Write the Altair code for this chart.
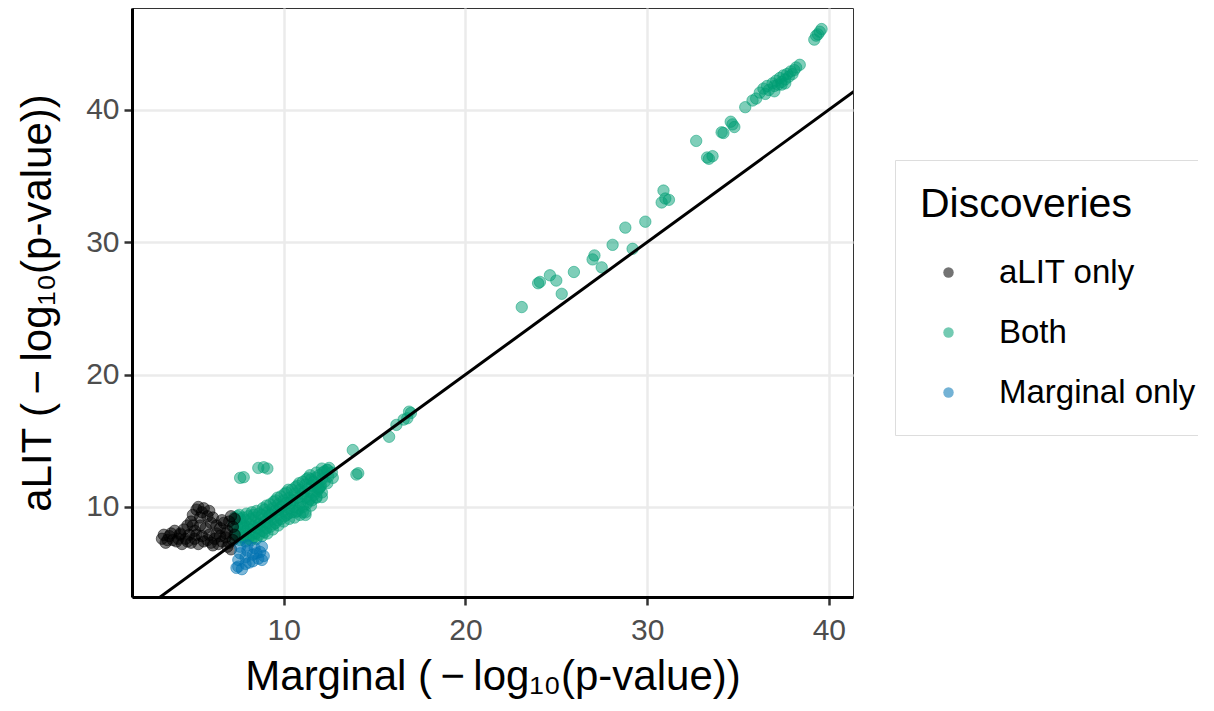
import altair as alt
import pandas as pd

categories = ["aLIT only", "Both", "Marginal only"]
palette = ["#000000", "#009E73", "#0072B2"]

# (Marginal, aLIT) values, -log10(p-value)
both_band = [
    (7.3, 7.6), (7.35, 8.0), (7.3, 8.4), (7.25, 8.8), (7.3, 9.2),
    (7.6, 7.5), (7.55, 7.9), (7.6, 8.3), (7.65, 8.7), (7.6, 9.1), (7.55, 9.4),
    (7.9, 7.4), (7.95, 7.8), (7.9, 8.2), (7.85, 8.6), (7.9, 9.0), (7.95, 9.5),
    (8.2, 7.5), (8.25, 7.9), (8.2, 8.3), (8.15, 8.7), (8.2, 9.1), (8.25, 9.6),
    (8.5, 7.6), (8.45, 8.0), (8.55, 8.4), (8.5, 8.8), (8.45, 9.2), (8.5, 9.7),
    (8.8, 7.8), (8.85, 8.2), (8.8, 8.6), (8.75, 9.0), (8.8, 9.4), (8.85, 9.9),
    (9.1, 8.0), (9.05, 8.4), (9.1, 8.8), (9.15, 9.2), (9.1, 9.6), (9.05, 10.1),
    (9.4, 8.3), (9.45, 8.7), (9.4, 9.1), (9.35, 9.5), (9.4, 9.9), (9.45, 10.4),
    (9.7, 8.6), (9.65, 9.0), (9.7, 9.4), (9.75, 9.8), (9.7, 10.2), (9.65, 10.7),
    (10.0, 8.9), (10.05, 9.3), (10.0, 9.7), (9.95, 10.1), (10.0, 10.5), (10.05, 11.0),
    (10.3, 9.1), (10.25, 9.5), (10.3, 9.9), (10.35, 10.3), (10.3, 10.7), (10.25, 11.3),
    (10.6, 9.2), (10.65, 9.6), (10.6, 10.0), (10.55, 10.5), (10.6, 11.0), (10.65, 11.5),
    (10.9, 9.4), (10.85, 9.9), (10.9, 10.3), (10.95, 10.8), (10.9, 11.3), (10.85, 11.8),
    (11.2, 9.6), (11.25, 10.2), (11.2, 10.7), (11.15, 11.2), (11.2, 11.7), (11.25, 12.1),
    (11.5, 10.1), (11.45, 10.6), (11.5, 11.1), (11.55, 11.6), (11.5, 12.1), (11.45, 12.4),
    (11.8, 10.7), (11.85, 11.2), (11.8, 11.7), (11.75, 12.2), (11.8, 12.6),
    (12.1, 11.1), (12.05, 11.6), (12.1, 12.1), (12.15, 12.6), (12.1, 12.9),
    (12.4, 11.8), (12.45, 12.3), (12.4, 12.8),
    (12.7, 12.2), (12.65, 12.6),
]
both_band_fill = [
    (7.45, 7.8), (7.45, 8.6), (7.45, 9.3), (7.75, 7.7), (7.75, 8.5), (7.75, 9.2),
    (8.05, 7.6), (8.05, 8.4), (8.05, 9.3), (8.35, 7.7), (8.35, 8.5), (8.35, 9.4),
    (8.65, 7.9), (8.65, 8.7), (8.65, 9.5), (8.95, 8.1), (8.95, 8.9), (8.95, 9.8),
    (9.25, 8.5), (9.25, 9.4), (9.25, 10.2), (9.55, 8.8), (9.55, 9.7), (9.55, 10.5),
    (9.85, 9.1), (9.85, 10.0), (9.85, 10.8), (10.15, 9.4), (10.15, 10.3), (10.15, 11.1),
    (10.45, 9.6), (10.45, 10.5), (10.45, 11.3), (10.75, 9.7), (10.75, 10.7), (10.75, 11.6),
    (11.05, 10.0), (11.05, 11.0), (11.05, 11.9), (11.35, 10.4), (11.35, 11.4), (11.35, 12.2),
    (11.65, 10.9), (11.65, 11.9), (11.95, 11.4), (11.95, 12.4), (12.25, 11.9), (12.25, 12.7),
]
both_outliers = [
    (7.6, 12.2), (7.8, 12.25), (8.6, 12.95), (8.9, 13.0), (9.1, 12.9),
    (11.8, 10.75), (11.55, 10.5), (11.05, 9.6), (11.2, 9.4), (11.9, 11.4),
    (12.0, 11.5), (12.1, 10.75), (12.4, 12.8), (12.5, 12.95),
]
both_mid = [
    (13.8, 14.3), (14.0, 12.45), (14.1, 12.55), (15.8, 15.3), (16.2, 16.2),
    (16.6, 16.6), (16.8, 16.7), (17.0, 17.1), (16.9, 17.2),
]
both_upper = [
    (23.1, 25.1), (24.0, 26.9), (24.1, 27.0), (24.65, 27.5), (25.0, 27.1),
    (25.3, 26.1), (25.97, 27.75), (27.0, 28.7), (27.1, 29.0), (27.5, 28.1),
    (28.1, 29.8), (28.8, 31.1), (29.2, 29.5), (29.9, 31.55),
    (30.8, 33.0), (30.9, 33.9), (31.0, 33.3), (31.2, 33.2),
    (32.7, 37.65), (33.3, 36.4), (33.4, 36.3), (33.6, 36.5),
    (34.1, 38.3), (34.2, 38.25), (34.6, 39.1), (34.7, 38.9), (34.8, 38.7),
    (35.4, 40.2), (35.8, 40.7), (36.0, 40.85),
    (36.2, 41.3), (36.4, 41.6), (36.5, 41.2), (36.6, 41.8), (36.7, 41.5),
    (36.9, 42.0), (37.0, 41.8), (37.0, 41.4), (37.1, 42.2), (37.2, 41.9),
    (37.3, 42.4), (37.4, 42.1), (37.4, 41.9), (37.5, 42.6), (37.6, 42.3),
    (37.6, 42.0), (37.7, 42.7), (37.8, 42.5), (37.9, 42.9), (38.0, 42.7),
    (38.1, 43.0), (38.2, 43.2), (38.4, 43.4),
    (39.2, 45.3), (39.3, 45.6), (39.4, 45.7), (39.5, 45.9), (39.6, 46.1),
]
alit_only = [
    (3.3, 7.6), (3.5, 7.3), (3.7, 7.8), (3.9, 7.5), (4.1, 7.4), (4.3, 7.9),
    (4.4, 7.2), (4.6, 7.6), (4.8, 7.9), (4.9, 7.3), (5.1, 7.6), (5.3, 7.2),
    (5.5, 7.8), (5.6, 7.4), (5.8, 7.5), (6.0, 7.3), (6.2, 7.6), (6.4, 7.2),
    (6.6, 7.4), (6.8, 7.7), (7.0, 7.3), (7.2, 7.5), (6.9, 7.0), (7.1, 6.8),
    (4.5, 8.3), (4.7, 8.6), (4.9, 8.9), (5.0, 9.4), (5.2, 9.8), (5.3, 10.0),
    (5.5, 9.6), (5.6, 9.9), (5.8, 9.3), (5.9, 9.7), (6.0, 8.8), (5.7, 8.4),
    (5.4, 8.6), (5.1, 8.2), (6.1, 9.2), (4.3, 8.0), (4.0, 8.2), (3.8, 8.0),
    (6.3, 8.0), (6.5, 8.4), (6.7, 8.8), (6.9, 8.2), (7.0, 8.9), (7.2, 8.5),
    (7.3, 9.1), (7.1, 9.3), (6.8, 8.0), (7.3, 7.9),
    (3.4, 7.9), (3.6, 7.5), (4.2, 7.6), (4.7, 7.4), (5.2, 7.9), (5.9, 7.9),
    (6.5, 7.8), (6.1, 7.1), (5.0, 8.6), (5.4, 9.2), (6.3, 8.6), (6.6, 9.0),
]
marginal_only = [
    (7.5, 5.5), (7.5, 6.0), (7.6, 6.5), (7.6, 7.0), (7.9, 5.7), (7.9, 6.2),
    (8.0, 6.7), (8.0, 7.1), (8.3, 5.9), (8.3, 6.4), (8.4, 6.9), (8.6, 6.1),
    (8.7, 6.6), (8.8, 7.0), (8.9, 6.3), (7.7, 5.3), (8.1, 5.8), (8.5, 6.5),
    (8.8, 6.0), (7.4, 5.4),
]
diagonal = [0, 50]

groups = [
    ("Both", both_band + both_band_fill + both_outliers + both_mid + both_upper),
    ("aLIT only", alit_only),
    ("Marginal only", marginal_only),
]
rows = []
for cat, pts in groups:
    for mx, ay in pts:
        rows.append({"marginal": mx, "alit": ay, "Discoveries": cat})
df = pd.DataFrame(rows)
line_df = pd.DataFrame({"marginal": diagonal, "alit": diagonal})

FONT = "Liberation Sans"
x_enc = alt.X(
    "marginal:Q",
    scale=alt.Scale(domain=[1.65, 41.33], nice=False, zero=False),
    axis=alt.Axis(values=[10, 20, 30, 40],
                  title="Marginal (\u2009\u2212\u2009log\u2081\u2080(p-value))",
                  titlePadding=11, labelPadding=10),
)
y_enc = alt.Y(
    "alit:Q",
    scale=alt.Scale(domain=[3.2, 47.69], nice=False, zero=False),
    axis=alt.Axis(values=[10, 20, 30, 40],
                  title="aLIT (\u2009\u2212\u2009log\u2081\u2080(p-value))",
                  titlePadding=26, labelPadding=5),
)
color_scale = alt.Scale(domain=categories, range=palette)

points = alt.Chart(df).mark_circle(
    size=130, fillOpacity=0.5, strokeOpacity=0.5, strokeWidth=1
).encode(
    x=x_enc,
    y=y_enc,
    color=alt.Color(
        "Discoveries:N",
        scale=color_scale,
        legend=alt.Legend(
            title="Discoveries", orient="none", legendX=763, legendY=152,
            padding=25, titleFontSize=41, titleFont=FONT, titleFontWeight="normal",
            titleColor="black", titleLimit=500, labelLimit=500,
            labelFontSize=33, labelFont=FONT, labelColor="black",
            symbolType="circle", symbolSize=110, symbolOpacity=0.55,
            rowPadding=26, titlePadding=30, labelOffset=34, symbolOffset=12,
            strokeColor="#dddddd", fillColor="white", symbolStrokeWidth=0,
        ),
    ),
    stroke=alt.Stroke("Discoveries:N", scale=color_scale, legend=None),
)

line = alt.Chart(line_df).mark_line(color="black", strokeWidth=3, clip=True).encode(
    x=x_enc, y=y_enc
)

chart = alt.layer(points, line).properties(
    width=721, height=589,
    autosize=alt.AutoSizeParams(type="none"),
    padding={"left": 124, "top": 0, "right": 345, "bottom": 106},
).configure_view(
    stroke="#333333", strokeWidth=1
).configure_axis(
    grid=True, gridColor="#EBEBEB", gridWidth=2.5,
    domainColor="black", domainWidth=3,
    tickColor="#333333", tickWidth=2.5, tickSize=8,
    labelFont=FONT, labelFontSize=30, labelColor="#4D4D4D",
    titleFont=FONT, titleFontSize=42, titleColor="black", titleFontWeight="normal",
)

chart.save("out.html", embed_options={"renderer": "svg", "actions": False})
